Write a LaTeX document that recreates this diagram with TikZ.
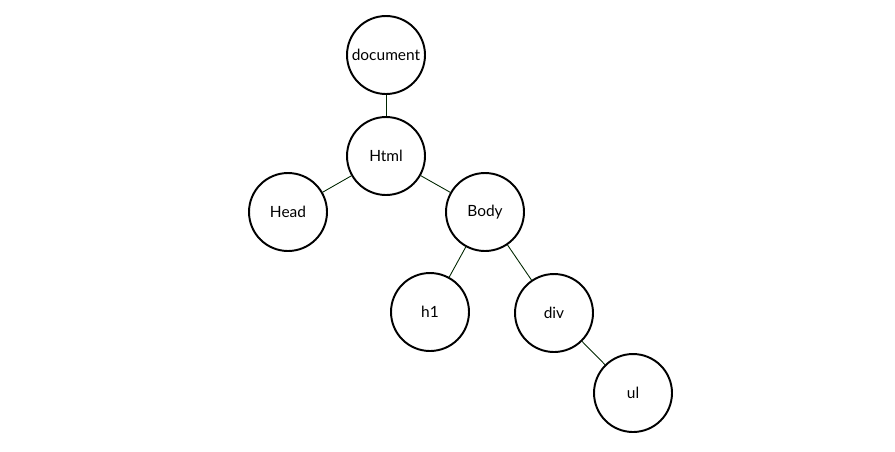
\documentclass[tikz,border=0pt]{standalone}
\usepackage{fontspec}
\setmainfont{Lato}
\usepackage{tikz}
\usetikzlibrary{arrows}

\begin{document}
\begin{tikzpicture}[x=0.02cm,y=-0.02cm,
  elem/.style={draw,circle,line width=1.1pt,minimum size=1.56cm,inner sep=0pt,font=\fontsize{8.8}{10}\selectfont},
  link/.style={line width=0.5pt,color=black!85!green}]
\useasboundingbox (0,0) rectangle (895,451);
\node[elem] (doc) at (386,55) {document};
\node[elem] (html) at (386,156) {Html};
\node[elem] (head) at (288,212) {Head};
\node[elem] (body) at (485,212) {Body};
\node[elem] (h1) at (430,312) {h1};
\node[elem] (div) at (554,313) {div};
\node[elem] (ul) at (633,393) {ul};

\draw[link] (doc) -- (html);
\draw[link] (html) -- (head); \draw[link] (html) -- (body);
\draw[link] (body) -- (h1); \draw[link] (body) -- (div);
\draw[link] (div) -- (ul);
\end{tikzpicture}
\end{document}
